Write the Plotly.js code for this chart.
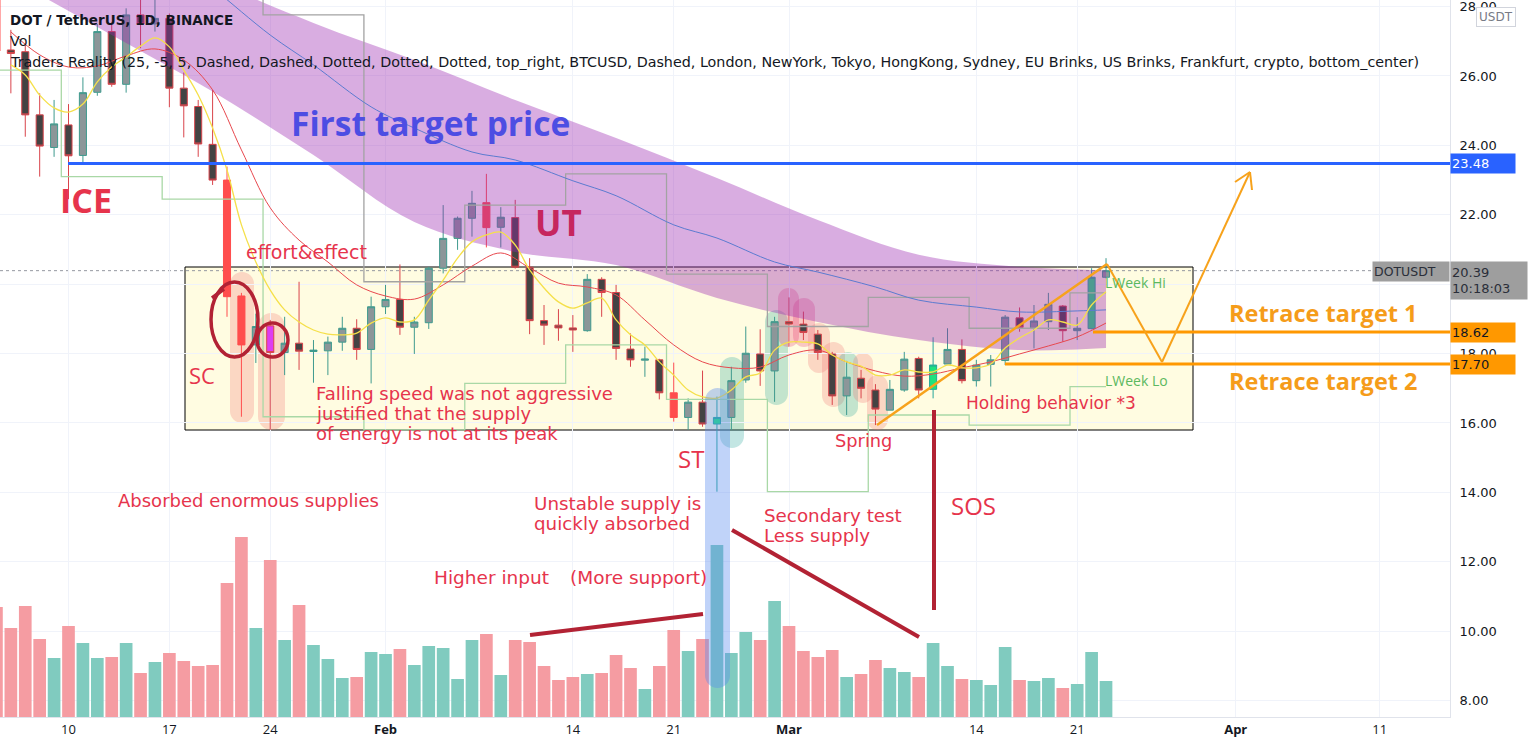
<!DOCTYPE html>
<html><head><meta charset="utf-8">
<script src="https://cdn.plot.ly/plotly-3.0.1.min.js"></script>
<style>html,body{margin:0;padding:0;background:#fff;overflow:hidden}#chart{width:1536px;height:752px}</style>
</head><body><div id="chart"></div>
<script>
// ---------------- DATA ----------------
const dates = ['2022-01-05','2022-01-06','2022-01-07','2022-01-08','2022-01-09','2022-01-10','2022-01-11','2022-01-12','2022-01-13','2022-01-14',
'2022-01-15','2022-01-16','2022-01-17','2022-01-18','2022-01-19','2022-01-20','2022-01-21','2022-01-22','2022-01-23','2022-01-24',
'2022-01-25','2022-01-26','2022-01-27','2022-01-28','2022-01-29','2022-01-30','2022-01-31',
'2022-02-01','2022-02-02','2022-02-03','2022-02-04','2022-02-05','2022-02-06','2022-02-07','2022-02-08','2022-02-09','2022-02-10',
'2022-02-11','2022-02-12','2022-02-13','2022-02-14','2022-02-15','2022-02-16','2022-02-17','2022-02-18','2022-02-19','2022-02-20',
'2022-02-21','2022-02-22','2022-02-23','2022-02-24','2022-02-25','2022-02-26','2022-02-27','2022-02-28',
'2022-03-01','2022-03-02','2022-03-03','2022-03-04','2022-03-05','2022-03-06','2022-03-07','2022-03-08','2022-03-09','2022-03-10',
'2022-03-11','2022-03-12','2022-03-13','2022-03-14','2022-03-15','2022-03-16','2022-03-17','2022-03-18','2022-03-19','2022-03-20',
'2022-03-21','2022-03-22','2022-03-23'];
const openP = [29.6,26.75,26.70,24.88,23.94,24.59,23.71,25.53,27.28,25.76,
27.76,27.5,27.66,25.65,25.12,24.03,23.0,19.66,18.25,18.80,
18.03,18.30,18.06,18.08,18.33,18.73,18.12,
19.35,19.56,18.76,18.89,20.46,21.32,21.90,22.35,21.64,21.92,
20.49,18.95,18.82,18.74,18.66,20.14,19.76,18.13,17.81,17.82,
16.87,16.16,16.60,15.97,16.16,17.24,17.99,17.50,
18.92,18.85,18.56,17.99,16.78,17.29,16.95,16.37,16.95,17.86,
16.97,17.70,18.12,17.22,17.69,17.80,19.03,18.73,18.92,19.37,
18.66,18.72,20.20];
const highP = [30.3,27.33,26.9,25.5,25.31,25.19,25.96,27.5,27.47,27.95,
28.4,28.5,27.8,26.1,25.31,25.6,23.39,19.75,19.15,18.97,
19.06,20.07,18.39,18.49,19.06,18.99,19.64,
19.98,20.57,19.06,20.5,22.28,21.95,22.69,23.18,22.22,22.43,
20.75,19.40,19.28,19.11,20.29,20.2,19.98,18.58,18.2,17.85,
17.74,16.71,17.51,16.76,17.62,18.78,18.70,19.06,
19.62,19.21,18.68,18.05,17.79,17.53,17.12,17.24,18.05,17.91,
18.47,18.73,18.41,17.82,17.96,19.11,19.33,19.40,19.75,19.4,
19.05,20.46,20.75];
const lowP = [26.5,25.5,24.25,23.1,23.67,22.45,23.48,25.43,25.69,25.52,
26.8,27.28,25.1,24.23,23.67,22.86,19.06,16.18,17.73,15.8,
17.38,17.53,17.16,17.38,18.08,17.82,17.14,
19.14,18.54,17.99,18.71,20.31,20.99,21.37,21.06,21.06,20.45,
18.56,18.25,18.37,18.05,18.63,19.06,17.82,17.62,17.33,16.68,
16.04,15.80,15.89,14.02,15.80,17.16,17.07,16.61,
18.2,18.39,17.82,16.52,16.23,16.71,15.94,16.37,16.9,16.71,
16.71,17.70,17.14,17.05,17.05,17.67,18.63,18.15,18.68,18.34,
18.39,18.70,20.17];
const closeP = [26.72,26.65,24.88,23.98,24.62,23.70,25.52,27.28,25.76,27.76,
27.5,27.66,25.65,25.14,24.04,23.0,19.64,18.25,18.78,18.03,
18.30,18.07,18.10,18.33,18.73,18.12,19.35,
19.56,18.76,18.91,20.46,21.32,21.90,22.33,21.63,21.93,20.49,
18.95,18.82,18.74,18.68,20.14,19.76,18.15,17.82,17.84,16.87,
16.16,16.60,15.97,16.16,17.22,18.01,17.50,18.92,
18.85,18.61,18.03,16.78,17.32,17.0,16.40,16.97,17.84,16.95,
17.67,18.12,17.22,17.67,17.82,19.05,18.75,18.94,19.42,18.66,
18.73,20.20,20.39];
// n = normal, r = climax bear (red), g = climax bull (lime), m = above-average bear (magenta)
const candleType = ['r','n','n','n','n','n','n','n','n','n',
'n','n','n','n','n','n','r','r','n','m',
'n','n','n','n','n','n','n',
'n','n','n','n','n','n','n','r','n','n',
'n','n','n','n','n','n','n','n','n','n',
'r','n','n','g','n','n','n','n',
'n','n','n','n','n','n','n','n','n','n',
'g','n','n','n','n','n','n','n','n','n',
'n','g','n'];
const volumeM = [11.0,8.9,11.1,7.8,5.9,9.1,7.4,5.9,6.0,7.4,
4.4,5.5,6.4,5.6,5.1,5.2,13.4,18.0,8.9,15.7,
7.7,11.2,7.2,5.8,3.9,4.0,6.5,
6.3,6.8,5.2,7.1,6.9,3.8,7.7,8.3,4.2,7.7,
7.5,5.1,3.7,4.0,4.3,4.4,6.2,4.9,2.8,5.1,
8.7,6.6,7.8,17.2,6.4,8.5,7.7,11.6,
9.1,6.6,6.0,6.7,4.0,4.3,5.7,4.9,4.5,4.0,
7.4,5.1,3.8,3.7,3.2,7.0,3.7,3.6,3.9,2.9,
3.3,6.5,3.6];

// fast moving average (yellow), daily from Jan 6
const yellowDates = dates.slice(1);
const yellowMA = [26.32,26.03,25.45,25.08,24.96,25.19,25.83,26.26,26.55,26.86,
27.10,26.84,26.17,25.45,24.50,23.29,21.71,20.64,19.83,19.26,
18.91,18.68,18.56,18.54,18.59,18.88,
19.03,18.91,18.97,19.54,20.12,20.75,21.22,21.42,21.50,21.13,
20.41,19.89,19.49,19.31,19.46,19.60,18.97,18.54,18.25,17.76,
17.38,16.95,16.75,16.72,16.95,17.33,17.44,18.10,
18.33,18.33,18.28,17.96,17.76,17.64,17.38,17.38,17.53,17.47,
17.47,17.67,17.59,17.59,17.70,18.16,18.45,18.68,18.97,18.91,
18.82,19.40,19.78];
// medium moving average (red)
const redDates = ['2022-01-06','2022-01-08','2022-01-10','2022-01-12','2022-01-14','2022-01-16','2022-01-18','2022-01-20','2022-01-22','2022-01-24',
'2022-01-26','2022-01-28','2022-01-30','2022-02-01','2022-02-03','2022-02-05','2022-02-07','2022-02-09','2022-02-11','2022-02-13',
'2022-02-15','2022-02-17','2022-02-19','2022-02-21','2022-02-23','2022-02-25','2022-02-27','2022-03-01','2022-03-03','2022-03-05',
'2022-03-07','2022-03-09','2022-03-11','2022-03-13','2022-03-15','2022-03-17','2022-03-19','2022-03-21','2022-03-23'];
const redMA = [27.27,26.61,26.26,26.29,26.58,26.78,26.46,25.6,23.87,22.2,
21.27,20.64,19.98,19.66,19.57,19.98,20.52,20.90,20.47,20.03,
19.92,19.69,18.97,18.25,17.76,17.59,17.61,17.96,18.10,17.76,
17.50,17.35,17.41,17.59,17.76,17.99,18.22,18.48,18.88];
// slow moving average (blue)
const blueDates = ['2022-01-17','2022-01-20','2022-01-24','2022-01-27','2022-01-31','2022-02-03','2022-02-07','2022-02-10','2022-02-14','2022-02-17',
'2022-02-21','2022-02-24','2022-02-28','2022-03-03','2022-03-07','2022-03-10','2022-03-14','2022-03-17','2022-03-21','2022-03-23'];
const blueMA = [29.5,28.54,27.18,26.32,25.11,24.50,23.81,23.58,22.98,22.55,
21.71,21.33,20.64,20.35,19.92,19.54,19.34,19.20,19.23,19.26];
// purple cloud band
const bandDates = ['2022-01-06','2022-01-13','2022-01-20','2022-01-27','2022-02-03','2022-02-10','2022-02-17','2022-02-24','2022-03-03','2022-03-10','2022-03-17','2022-03-23'];
const bandUpper = [32.2,30.6,28.8,27.53,26.46,25.31,24.21,23.06,21.85,20.85,20.5,20.4];
const bandLower = [28.8,27.18,25.55,23.72,21.79,20.93,20.55,19.6,18.91,18.39,18.10,18.16];
// previous week high / low
const weekStart = ['2022-01-03','2022-01-10','2022-01-17','2022-01-24','2022-01-31','2022-02-07','2022-02-14','2022-02-21','2022-02-28','2022-03-07','2022-03-14','2022-03-21'];
const lastWeekHi = [30.5,30.9,28.5,27.76,20.07,22.28,23.18,20.29,18.78,19.62,18.73,19.75];
const lastWeekLo = [26.17,23.1,22.45,16.18,15.8,17.14,18.25,16.68,14.02,16.23,15.94,17.05];
// price levels
const firstTarget = 23.48, retrace1 = 18.62, retrace2 = 17.70, lastPrice = 20.39;
const yTicks = [8,10,12,14,16,18,20,22,24,26,28];
const yTickText = ['8.00','10.00','12.00','14.00','16.00','18.00','','22.00','24.00','26.00','28.00'];
const xTickDates = ['2022-01-10','2022-01-17','2022-01-24','2022-02-01','2022-02-14','2022-02-21','2022-03-01','2022-03-14','2022-03-21','2022-04-01','2022-04-11'];
const xTickText = ['10','17','24','<b>Feb</b>','14','21','<b>Mar</b>','14','21','<b>Apr</b>','11'];

// ---------------- HELPERS ----------------
const FONT = 'Open Sans, DejaVu Sans, sans-serif';
const FONT2 = 'DejaVu Sans, sans-serif';
const W = 1450, H = 717;               // plot area in px
const X = px => px / W, Y = py => 1 - py / H;
const DAY = 864e5, JAN10 = Date.UTC(2022,0,10), PXDAY = 14.41, PX0 = 68.5;
function fmt(ms){ const d = new Date(ms); const p=n=>String(n).padStart(2,'0');
  return d.getUTCFullYear()+'-'+p(d.getUTCMonth()+1)+'-'+p(d.getUTCDate())+' '+p(d.getUTCHours())+':'+p(d.getUTCMinutes())+':'+p(d.getUTCSeconds()); }
const xRange = [fmt(JAN10 + (-PX0/PXDAY)*DAY), fmt(JAN10 + ((W-PX0)/PXDAY)*DAY)];
const yRange = [7.527, 28.19];
function P(x,y){ return X(x).toFixed(5)+','+Y(y).toFixed(5); }

// ---------------- TRACES ----------------
const traces = [];
traces.push({type:'scatter', mode:'lines', x:bandDates, y:bandLower, line:{width:0, shape:'spline'}, hoverinfo:'skip'});
traces.push({type:'scatter', mode:'lines', x:bandDates, y:bandUpper, line:{width:0, shape:'spline'}, fill:'tonexty', fillcolor:'rgba(156,39,176,0.38)', hoverinfo:'skip'});

traces.push({type:'bar', x:dates, y:volumeM, yaxis:'y2', width:0.88*DAY,
  marker:{color: dates.map((d,i)=> closeP[i] >= openP[i] ? '#80cbbf' : '#f59ca2'), line:{width:0}}, hoverinfo:'skip'});

function steps(vals){
  const xs = weekStart.map(d => fmt(Date.parse(d+'T00:00:00Z') - DAY/2));
  xs.push(fmt(Date.parse(dates[dates.length-1]+'T00:00:00Z')));
  const ys = vals.slice(); ys.push(vals[vals.length-1]);
  return {xs, ys};
}
const hiS = steps(lastWeekHi), loS = steps(lastWeekLo);
traces.push({type:'scatter', mode:'lines', x:hiS.xs, y:hiS.ys, line:{color:'#a3a3a3', width:1.3, shape:'hv'}, hoverinfo:'skip'});
traces.push({type:'scatter', mode:'lines', x:loS.xs, y:loS.ys, line:{color:'#a9d8a6', width:1.3, shape:'hv'}, hoverinfo:'skip'});

traces.push({type:'scatter', mode:'lines', x:blueDates, y:blueMA, line:{color:'#5b7bd0', width:1, shape:'spline'}, hoverinfo:'skip'});
traces.push({type:'scatter', mode:'lines', x:redDates, y:redMA, line:{color:'#e8484e', width:1, shape:'spline'}, hoverinfo:'skip'});
traces.push({type:'scatter', mode:'lines', x:yellowDates, y:yellowMA, line:{color:'#f5e04a', width:1.3, shape:'spline'}, hoverinfo:'skip'});

function candleTrace(type, inc, dec){
  const idx = candleType.map((t,i)=> t===type ? i : -1).filter(i=>i>=0);
  return {type:'candlestick', x: idx.map(i=>dates[i]), open: idx.map(i=>openP[i]), high: idx.map(i=>highP[i]),
    low: idx.map(i=>lowP[i]), close: idx.map(i=>closeP[i]), whiskerwidth:0,
    increasing:{line:{color:inc[0], width:1}, fillcolor:inc[1]},
    decreasing:{line:{color:dec[0], width:1}, fillcolor:dec[1]}, hoverinfo:'skip', showlegend:false};
}
traces.push(candleTrace('n', ['#3f9a8e','#8c9699'], ['#d9444b','#434343']));
traces.push(candleTrace('r', ['#ff4d4d','#ff4d4d'], ['#ff4d4d','#ff4d4d']));
traces.push(candleTrace('g', ['#26a69a','#1fe27c'], ['#26a69a','#1fe27c']));
traces.push(candleTrace('m', ['#d9444b','#dd3cf2'], ['#d9444b','#dd3cf2']));

// ---------------- SHAPES ----------------
const shapes = [];
shapes.push({type:'rect', xref:'paper', yref:'paper', x0:X(185), x1:X(1193), y0:Y(430), y1:Y(267),
  fillcolor:'rgba(255,245,157,0.3)', line:{color:'#000', width:1}, layer:'below'});
shapes.push({type:'line', xref:'paper', yref:'y', x0:0, x1:1, y0:lastPrice, y1:lastPrice, line:{color:'#9598a1', width:1, dash:'dot'}, layer:'below'});

function capsule(x1,x2,y1,y2,color,layer){
  const r=(x2-x1)/2, k=0.5523*r, m=x1+r;
  const path = 'M'+P(x1,y1+r)+' C'+P(x1,y1+r-k)+' '+P(m-k,y1)+' '+P(m,y1)+' C'+P(m+k,y1)+' '+P(x2,y1+r-k)+' '+P(x2,y1+r)+
    ' L'+P(x2,y2-r)+' C'+P(x2,y2-r+k)+' '+P(m+k,y2)+' '+P(m,y2)+' C'+P(m-k,y2)+' '+P(x1,y2-r+k)+' '+P(x1,y2-r)+' Z';
  return {type:'path', xref:'paper', yref:'paper', path, fillcolor:color, line:{width:0}, layer:layer||'below'};
}
const pink='rgba(239,120,120,0.28)', rose='rgba(233,60,120,0.28)', teal='rgba(38,166,154,0.28)', blue='rgba(90,140,240,0.38)';
shapes.push(capsule(230,254,272,423,pink));
shapes.push(capsule(258,285,313,430,pink));
shapes.push(capsule(720,744,357,448,teal));
shapes.push(capsule(765,788,310,405,teal));
shapes.push(capsule(778,799,288,347,rose));
shapes.push(capsule(793,815,298,347,rose));
shapes.push(capsule(808,830,323,373,pink));
shapes.push(capsule(822,845,342,407,pink));
shapes.push(capsule(838,858,352,417,teal));
shapes.push(capsule(853,873,353,403,pink));
shapes.push(capsule(867,888,375,430,pink));
shapes.push(capsule(705,730,388,688,blue,'above'));

shapes.push({type:'line', xref:'paper', yref:'y', x0:X(68), x1:1, y0:firstTarget, y1:firstTarget, line:{color:'#2962ff', width:3}});
shapes.push({type:'line', xref:'paper', yref:'y', x0:X(1093), x1:1, y0:retrace1, y1:retrace1, line:{color:'#ff9800', width:3}});
shapes.push({type:'line', xref:'paper', yref:'y', x0:X(1005), x1:1, y0:retrace2, y1:retrace2, line:{color:'#ff9800', width:3}});
function seg(x0,y0,x1,y1,color,w){ return {type:'line', xref:'paper', yref:'paper', x0:X(x0), y0:Y(y0), x1:X(x1), y1:Y(y1), line:{color, width:w}}; }
const orange='#f7a21b', maroon='#b22234';
shapes.push(seg(877,425,1107,264,orange,2.5));
shapes.push(seg(1107,264,1162,362,orange,2));
shapes.push(seg(1162,362,1250,172,orange,2));
shapes.push(seg(1250,172,1235,182,orange,2));
shapes.push(seg(1250,172,1252,190,orange,2));
shapes.push(seg(530,635,703,614,maroon,4));
shapes.push(seg(732,530,919,637,maroon,4));
shapes.push(seg(934,410,934,610,maroon,4));
shapes.push({type:'circle', xref:'paper', yref:'paper', x0:X(211), x1:X(258), y0:Y(357), y1:Y(282), line:{color:maroon, width:3.5}});
shapes.push(seg(212,298,224,289,maroon,3.5));
shapes.push({type:'circle', xref:'paper', yref:'paper', x0:X(257), x1:X(288), y0:Y(357), y1:Y(323), line:{color:maroon, width:3.5}});

// ---------------- ANNOTATIONS ----------------
const red='#e6344c';
function note(text,px,py,size,color,anchor,family){
  return {xref:'paper', yref:'paper', x:X(px), y:Y(py), text, showarrow:false,
    xanchor:anchor||'center', yanchor:'middle', align:'left', font:{family:family||FONT2, size, color}};
}
const ann = [
  note('<b>DOT / TetherUS, 1D, BINANCE</b>',8,20,13.5,'#131722','left'),
  note('Vol',8,41,14.3,'#131722','left'),
  note('Traders Reality (25, -5, 5, Dashed, Dashed, Dotted, Dotted, Dotted, top_right, BTCUSD, Dashed, London, NewYork, Tokyo, HongKong, Sydney, EU Brinks, US Brinks, Frankfurt, crypto, bottom_center)',8,62,14.3,'#131722','left'),
  note('<b>First target price</b>',430,123,33.5,'#4d4de3','center',FONT),
  note('<b>ICE</b>',86,200,34,red,'center',FONT),
  note('effort&amp;effect',306,252,19,red),
  note('<b>UT</b>',558,222,35,'#c6265e','center',FONT),
  note('SC',202,375,22,red,'center',FONT),
  note('Falling speed was not aggressive',314,393,18,red,'left'),
  note('justified that the supply',314,413,18,red,'left'),
  note('of energy is not at its peak',314,433,18,red,'left'),
  note('ST',691,458,24,red,'center',FONT),
  note('Absorbed enormous supplies',249,500,18,red),
  note('Unstable supply is',532,503,18.3,red,'left'),
  note('quickly absorbed',532,523,18.3,red,'left'),
  note('Secondary test',762,515,18.3,red,'left'),
  note('Less supply',762,535,18.3,red,'left'),
  note('Higher input',432,577,18.5,red,'left'),
  note('(More support)',568,577,18.5,red,'left'),
  note('Spring',864,440,17.8,red),
  note('Holding behavior *3',1051,403,17,red),
  note('SOS',973,505,24,red,'center',FONT),
  note('<b>Retrace target 1</b>',1227,313,23.5,'#f59c1a','left',FONT),
  note('<b>Retrace target 2</b>',1227,381,23.5,'#f59c1a','left',FONT),
  note('LWeek Hi',1103,282,14,'#5cb860','left',FONT),
  note('LWeek Lo',1103,380,14,'#5cb860','left',FONT),
  // price scale labels
  {xref:'paper', yref:'y', x:1, y:firstTarget, xanchor:'left', yanchor:'middle', text:'23.48', showarrow:false, bgcolor:'#2962ff', width:62, height:17, borderpad:1, align:'left', font:{family:FONT2, size:13, color:'#fff'}},
  {xref:'paper', yref:'y', x:1, y:retrace1, xanchor:'left', yanchor:'middle', text:'18.62', showarrow:false, bgcolor:'#ff9800', width:62, height:17, borderpad:1, align:'left', font:{family:FONT2, size:13, color:'#131722'}},
  {xref:'paper', yref:'y', x:1, y:retrace2, xanchor:'left', yanchor:'middle', text:'17.70', showarrow:false, bgcolor:'#ff9800', width:62, height:17, borderpad:1, align:'left', font:{family:FONT2, size:13, color:'#131722'}},
  {xref:'paper', yref:'paper', x:1, y:Y(261), xanchor:'left', yanchor:'top', text:'20.39<br>10:18:03', showarrow:false, bgcolor:'#9e9e9e', width:74, height:35, borderpad:1, align:'left', font:{family:FONT2, size:13, color:'#2a2e39'}},
  {xref:'paper', yref:'paper', x:1, y:Y(271), xanchor:'right', yanchor:'middle', text:'DOTUSDT', showarrow:false, bgcolor:'#9e9e9e', width:74, height:17, borderpad:1, align:'left', font:{family:FONT2, size:12.5, color:'#2a2e39'}},
  {xref:'paper', yref:'paper', x:X(1476), y:Y(17), xanchor:'left', yanchor:'middle', text:'USDT', showarrow:false, bgcolor:'#fff', bordercolor:'#d1d4dc', borderwidth:1, borderpad:2, font:{family:FONT2, size:12, color:'#787b86'}}
];

const layout = {
  width:1536, height:752, margin:{l:0, r:86, t:0, b:35}, paper_bgcolor:'#fff', plot_bgcolor:'#fff',
  showlegend:false, hovermode:false, boxgap:0.3,
  xaxis:{type:'date', range:xRange, tickvals:xTickDates, ticktext:xTickText, showgrid:true, gridcolor:'#f0f3fa',
    showline:true, linecolor:'#e0e3eb', ticks:'', zeroline:false, rangeslider:{visible:false},
    tickfont:{family:FONT, size:13, color:'#131722'}, fixedrange:true},
  yaxis:{side:'right', range:yRange, tickvals:yTicks, ticktext:yTickText, showgrid:true, gridcolor:'#f0f3fa',
    showline:true, linecolor:'#e0e3eb', ticks:'', zeroline:false, ticklabelstandoff:6, ticklabeloverflow:'allow',
    tickfont:{family:FONT2, size:13, color:'#131722'}, fixedrange:true},
  yaxis2:{overlaying:'y', range:[0,71.7], visible:false, fixedrange:true},
  shapes, annotations: ann
};
Plotly.newPlot('chart', traces, layout, {displayModeBar:false, staticPlot:true});
</script></body></html>
